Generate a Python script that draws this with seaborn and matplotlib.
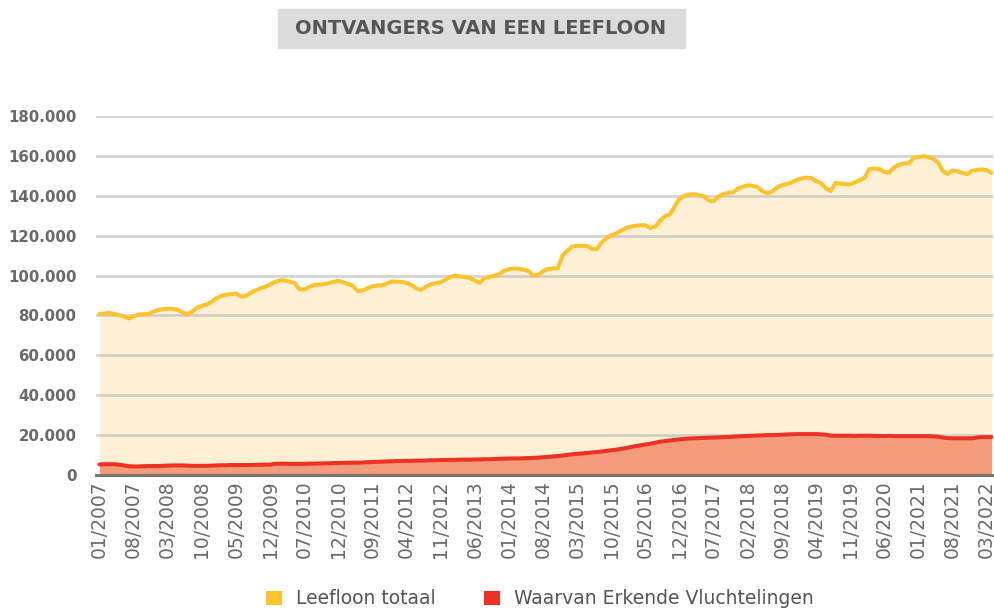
import numpy as np
import pandas as pd
import matplotlib
matplotlib.use("Agg")
import matplotlib.pyplot as plt
from matplotlib.patches import Patch, Rectangle
import seaborn as sns

# Leefloon totaal (thousands), monthly 01/2007 .. 04/2022
leefloon_k = [
    80.7, 81.0, 81.4, 80.8, 80.2, 79.4, 78.5, 79.5, 80.5, 80.6, 80.7, 81.8,
    82.7, 83.1, 83.4, 83.3, 82.9, 81.6, 80.6, 81.8, 83.8, 84.8, 85.5, 86.8,
    88.6, 89.8, 90.4, 90.6, 91.0, 89.5, 89.7, 91.3, 92.5, 93.6, 94.4, 95.5,
    96.8, 97.6, 97.5, 97.0, 96.3, 93.2, 93.0, 94.2, 95.3, 95.5, 95.6, 96.2,
    96.8, 97.3, 96.6, 95.8, 94.9, 92.2, 92.5, 93.7, 94.6, 95.0, 95.1, 96.0,
    97.1, 96.9, 96.8, 96.3, 95.4, 93.5, 92.8, 94.5, 95.7, 96.2, 96.6, 98.0,
    99.4, 99.9, 99.6, 99.3, 98.8, 97.5, 96.4, 98.6, 99.4, 99.9, 100.6, 102.4,
    103.2, 103.5, 103.4, 103.0, 102.3, 100.0, 100.3, 102.2, 103.2, 103.6, 103.6, 110.0,
    112.5, 114.6, 114.9, 114.9, 114.9, 113.5, 113.2, 116.5, 118.8, 120.2, 121.1, 122.5,
    123.8, 124.5, 125.0, 125.2, 125.3, 123.8, 124.6, 127.5, 129.8, 130.6, 134.5, 138.6,
    140.0, 140.7, 140.8, 140.3, 139.8, 137.6, 137.3, 139.8, 140.9, 141.5, 141.8, 143.6,
    144.5, 145.3, 145.0, 144.3, 142.3, 141.2, 142.2, 144.2, 145.3, 145.9, 146.6, 147.9,
    148.7, 149.1, 148.9, 147.4, 146.4, 143.8, 142.4, 146.5, 146.1, 145.9, 145.7, 146.8,
    147.8, 149.2, 153.5, 153.6, 153.4, 152.0, 151.6, 154.2, 155.6, 156.2, 156.2, 159.0,
    159.5, 159.9, 159.4, 158.6, 156.8, 152.5, 150.9, 152.7, 152.3, 151.5, 150.8, 152.5,
    153.0, 153.2, 152.9, 151.5,
]

# Waarvan Erkende Vluchtelingen (thousands)
vluchtelingen_k = [
    5.3, 5.4, 5.4, 5.4, 5.2, 4.8, 4.4, 4.3, 4.3, 4.4, 4.5, 4.5,
    4.5, 4.6, 4.7, 4.8, 4.8, 4.8, 4.7, 4.6, 4.6, 4.6, 4.6, 4.7,
    4.8, 4.9, 4.9, 5.0, 5.0, 5.0, 5.0, 5.0, 5.1, 5.1, 5.2, 5.2,
    5.6, 5.7, 5.7, 5.6, 5.6, 5.6, 5.6, 5.7, 5.7, 5.8, 5.8, 5.9,
    6.0, 6.0, 6.1, 6.1, 6.2, 6.2, 6.3, 6.4, 6.5, 6.6, 6.7, 6.8,
    6.9, 7.0, 7.0, 7.1, 7.1, 7.2, 7.2, 7.3, 7.4, 7.4, 7.5, 7.5,
    7.6, 7.6, 7.7, 7.7, 7.7, 7.8, 7.8, 7.9, 7.9, 8.0, 8.1, 8.2,
    8.3, 8.3, 8.3, 8.4, 8.5, 8.6, 8.7, 8.9, 9.1, 9.3, 9.5, 9.8,
    10.1, 10.4, 10.6, 10.8, 11.0, 11.3, 11.5, 11.8, 12.1, 12.4, 12.7, 13.1,
    13.5, 14.0, 14.5, 14.9, 15.3, 15.7, 16.2, 16.7, 17.0, 17.3, 17.6, 17.9,
    18.1, 18.3, 18.4, 18.5, 18.6, 18.7, 18.8, 18.9, 19.0, 19.1, 19.2, 19.4,
    19.5, 19.6, 19.7, 19.8, 19.9, 20.0, 20.0, 20.1, 20.2, 20.3, 20.4, 20.5,
    20.5, 20.5, 20.5, 20.5, 20.4, 20.2, 19.8, 19.7, 19.7, 19.7, 19.7, 19.6,
    19.7, 19.7, 19.7, 19.6, 19.6, 19.5, 19.6, 19.5, 19.5, 19.5, 19.5, 19.5,
    19.5, 19.5, 19.5, 19.4, 19.2, 18.8, 18.5, 18.4, 18.4, 18.4, 18.4, 18.4,
    18.8, 19.0, 19.0, 19.0,
]

tick_labels = [
    "01/2007", "08/2007", "03/2008", "10/2008", "05/2009", "12/2009", "07/2010",
    "12/2010", "09/2011", "04/2012", "11/2012", "06/2013", "01/2014", "08/2014",
    "03/2015", "10/2015", "05/2016", "12/2016", "07/2017", "02/2018", "09/2018",
    "04/2019", "11/2019", "06/2020", "01/2021", "08/2021", "03/2022",
]
y_ticks = [0, 20000, 40000, 60000, 80000, 100000, 120000, 140000, 160000, 180000]

title = "ONTVANGERS VAN EEN LEEFLOON"
series_names = ["Leefloon totaal", "Waarvan Erkende Vluchtelingen"]

YELLOW = "#FEC22D"
CREAM = "#FEF0D5"
RED = "#EE3124"
SALMON = "#F49B7B"
GREY_TXT = "#6A6A6A"

sns.set_theme(style="white")
plt.rcParams["font.family"] = ["DejaVu Sans"]

n = len(leefloon_k)
df = pd.DataFrame({
    "month": np.arange(n),
    "totaal": np.array(leefloon_k) * 1000,
    "vlucht": np.array(vluchtelingen_k) * 1000,
})

W, H = 995, 608
fig = plt.figure(figsize=(W / 100, H / 100), dpi=100)
left_px, right_px, top_px, bot_px = 96, 993, 116, 475
ax = fig.add_axes([left_px / W, 1 - bot_px / H, (right_px - left_px) / W, (bot_px - top_px) / H])

ax.fill_between(df["month"], 0, df["totaal"], color=CREAM, lw=0, zorder=1)
ax.fill_between(df["month"], 0, df["vlucht"], color=SALMON, lw=0, zorder=1.1)
sns.lineplot(data=df, x="month", y="totaal", ax=ax, color=YELLOW, lw=2.9, zorder=3)
sns.lineplot(data=df, x="month", y="vlucht", ax=ax, color=RED, lw=2.9, zorder=3)

ax.set_xlim(-0.7, n - 1 + 0.3)
ax.set_ylim(0, 180000)
ax.set_axisbelow("line")
ax.yaxis.grid(True, color="#BDBDBD", lw=2, alpha=0.65)
ax.xaxis.grid(False)
for s in ["top", "right", "left"]:
    ax.spines[s].set_visible(False)
ax.spines["bottom"].set_color("#777777")
ax.spines["bottom"].set_linewidth(2.2)
ax.spines["bottom"].set_zorder(4)
ax.set_xlabel("")
ax.set_ylabel("")

ax.set_yticks(y_ticks)
ax.set_yticklabels([f"{v:,}".replace(",", ".") for v in y_ticks])
ax.tick_params(axis="y", length=0, pad=14, labelsize=10.8, labelcolor=GREY_TXT)
for lab in ax.get_yticklabels():
    lab.set_fontweight("bold")

# x tick labels as rotated texts placed at the tick positions
tick_pos = np.arange(0, n, 7)[:len(tick_labels)]
ax.set_xticks(tick_pos)
ax.tick_params(axis="x", length=0, labelbottom=False)
xtrans = ax.get_xaxis_transform()
for pos, lab in zip(tick_pos, tick_labels):
    ax.text(pos, -0.014, lab, transform=xtrans, rotation=90, ha="center", va="top",
            fontsize=13.5, color=GREY_TXT, clip_on=False)

# title box
fig.patches.append(Rectangle((278 / W, 1 - 48 / H), (685 - 278) / W, 39 / H,
                             transform=fig.transFigure, color="#DCDCDD", zorder=0))
fig.text(481 / W, 1 - 29 / H, title, ha="center", va="center",
         fontsize=14, fontweight="bold", color="#555555")

handles = [Patch(facecolor=YELLOW, edgecolor="none"), Patch(facecolor=RED, edgecolor="none")]
fig.legend(handles, series_names, loc="center", bbox_to_anchor=(540 / W, 1 - 599 / H),
           ncol=2, frameon=False, fontsize=13.5, labelcolor="#555555",
           handlelength=0.85, handleheight=0.85, handletextpad=0.75, columnspacing=2.6,
           borderpad=0)

fig.savefig("out.png", dpi=100)
